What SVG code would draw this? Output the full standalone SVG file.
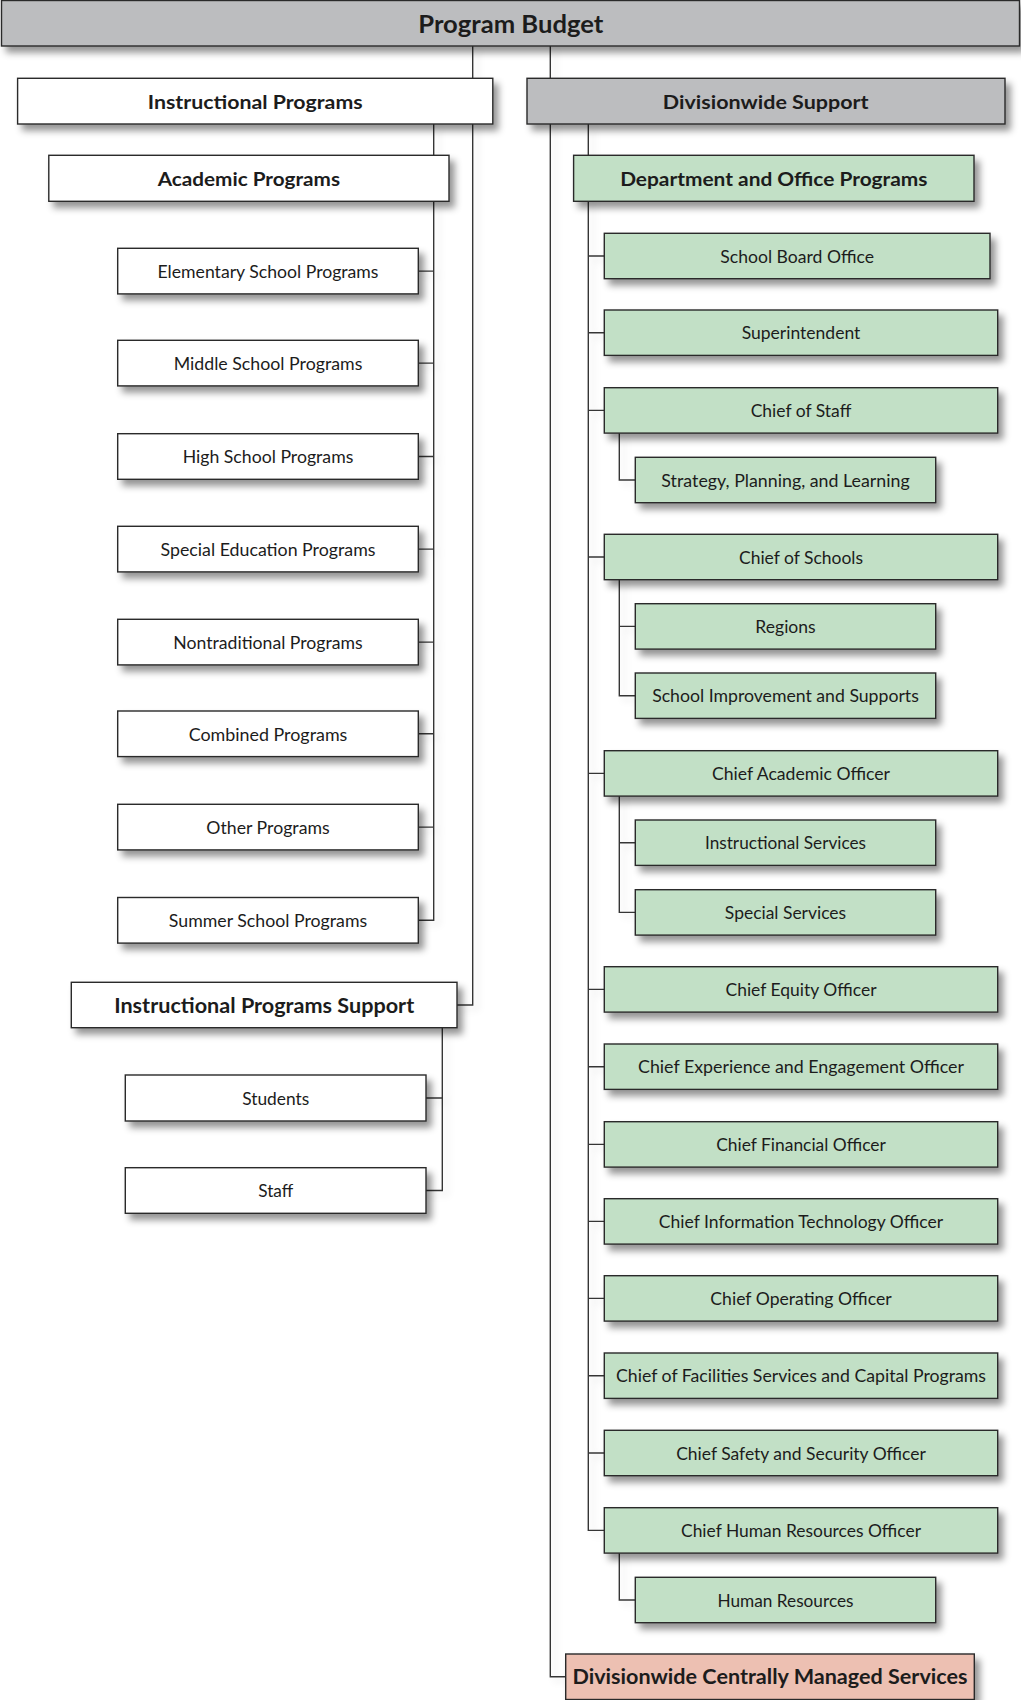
<svg xmlns="http://www.w3.org/2000/svg" width="1021" height="1700" viewBox="0 0 1021 1700">
  <style>
    .box{stroke:#2a2a2a;stroke-width:1.4}
    .w{fill:#ffffff}
    .g{fill:#bcbdbf}
    .gr{fill:#c2e0c6}
    .pk{fill:#edc0b2}
    .t{font-family:Lato,"Open Sans","Liberation Sans",sans-serif;font-size:18px;fill:#1c1c1c;text-anchor:middle}
    .b{font-weight:700;font-size:19.5px}
    .b20{font-size:20px}
    .b24{font-size:24px}
    #connectors path{stroke:#363636;stroke-width:1.4;fill:none}
  </style>
  <defs>
    <filter id="sh" x="-5%" y="-30%" width="115%" height="180%">
      <feDropShadow dx="5" dy="6" stdDeviation="3.5" flood-color="#000" flood-opacity="0.42"/>
    </filter>
    <filter id="lsh" filterUnits="userSpaceOnUse" x="0" y="0" width="1021" height="1700">
      <feDropShadow dx="5" dy="4" stdDeviation="3.5" flood-color="#000" flood-opacity="0.12"/>
    </filter>
  </defs>

  <!-- tree lines, drawn beneath the boxes -->
  <g id="connectors" filter="url(#lsh)">
    <path d="M472.7 46 V1005 H457"/>
    <path d="M550.3 46 V1676.7 H565.7"/>
    <path d="M433.7 124 V920.3 H418.3"/>
    <path d="M418.3 271.1 H433.7 M418.3 363.1 H433.7 M418.3 456.5 H433.7 M418.3 549.1 H433.7 M418.3 642.1 H433.7 M418.3 733.8 H433.7 M418.3 827.1 H433.7"/>
    <path d="M442.3 1027.7 V1190.5 H426 M426 1098 H442.3"/>
    <path d="M588.3 124 V1530.4 H604.3"/>
    <path d="M588.3 256 H604.3 M588.3 332.7 H604.3 M588.3 410.4 H604.3 M588.3 557 H604.3 M588.3 773.4 H604.3 M588.3 989.4 H604.3 M588.3 1066.7 H604.3 M588.3 1144.4 H604.3 M588.3 1221.4 H604.3 M588.3 1298.4 H604.3 M588.3 1375.7 H604.3 M588.3 1453 H604.3"/>
    <path d="M619.3 432.7 V480 H635.3"/>
    <path d="M619.3 579.3 V695.7 H635.3 M619.3 626.4 H635.3"/>
    <path d="M619.3 796 V912.4 H635.3 M619.3 842.7 H635.3"/>
    <path d="M619.3 1553 V1600 H635.3"/>
  </g>

  <!-- root -->
  <g id="program-budget">
    <rect class="box g" x="1.5" y="0.5" width="1018" height="45.5" filter="url(#sh)"/>
    <text class="t b b24" x="510.8" y="33.3" textLength="185" lengthAdjust="spacingAndGlyphs">Program Budget</text>
  </g>

  <!-- instructional side -->
  <g id="instructional-programs">
    <rect class="box w" x="17.6" y="78.3" width="475.2" height="45.7" filter="url(#sh)"/>
    <text class="t b" x="255.2" y="109.3" textLength="214.8" lengthAdjust="spacingAndGlyphs">Instructional Programs</text>
  </g>
  <g id="academic-programs">
    <rect class="box w" x="48.8" y="155.3" width="400.2" height="46" filter="url(#sh)"/>
    <text class="t b" x="248.9" y="186.3" textLength="182.3" lengthAdjust="spacingAndGlyphs">Academic Programs</text>
  </g>
  <g id="elementary">
    <rect class="box w" x="117.7" y="248.3" width="300.6" height="45.6" filter="url(#sh)"/>
    <text class="t" x="268" y="277.8" textLength="221" lengthAdjust="spacingAndGlyphs">Elementary School Programs</text>
  </g>
  <g id="middle">
    <rect class="box w" x="117.7" y="340.3" width="300.6" height="45.6" filter="url(#sh)"/>
    <text class="t" x="268" y="369.8" textLength="188.7" lengthAdjust="spacingAndGlyphs">Middle School Programs</text>
  </g>
  <g id="high">
    <rect class="box w" x="117.7" y="433.7" width="300.6" height="45.6" filter="url(#sh)"/>
    <text class="t" x="268" y="463.2" textLength="170.7" lengthAdjust="spacingAndGlyphs">High School Programs</text>
  </g>
  <g id="special-education">
    <rect class="box w" x="117.7" y="526.3" width="300.6" height="45.6" filter="url(#sh)"/>
    <text class="t" x="268" y="555.8" textLength="215" lengthAdjust="spacingAndGlyphs">Special Education Programs</text>
  </g>
  <g id="nontraditional">
    <rect class="box w" x="117.7" y="619.3" width="300.6" height="45.6" filter="url(#sh)"/>
    <text class="t" x="268" y="648.8" textLength="189.3" lengthAdjust="spacingAndGlyphs">Nontraditional Programs</text>
  </g>
  <g id="combined">
    <rect class="box w" x="117.7" y="711" width="300.6" height="45.6" filter="url(#sh)"/>
    <text class="t" x="268" y="740.5" textLength="158.7" lengthAdjust="spacingAndGlyphs">Combined Programs</text>
  </g>
  <g id="other">
    <rect class="box w" x="117.7" y="804.3" width="300.6" height="45.6" filter="url(#sh)"/>
    <text class="t" x="268" y="833.8" textLength="123.3" lengthAdjust="spacingAndGlyphs">Other Programs</text>
  </g>
  <g id="summer">
    <rect class="box w" x="117.7" y="897.5" width="300.6" height="45.6" filter="url(#sh)"/>
    <text class="t" x="268" y="927" textLength="198.3" lengthAdjust="spacingAndGlyphs">Summer School Programs</text>
  </g>
  <g id="instructional-programs-support">
    <rect class="box w" x="71.3" y="982.3" width="385.7" height="45.4" filter="url(#sh)"/>
    <text class="t b b20" x="264.2" y="1013.3" textLength="300" lengthAdjust="spacingAndGlyphs">Instructional Programs Support</text>
  </g>
  <g id="students">
    <rect class="box w" x="125.3" y="1075" width="300.7" height="46" filter="url(#sh)"/>
    <text class="t" x="275.7" y="1105" textLength="67" lengthAdjust="spacingAndGlyphs">Students</text>
  </g>
  <g id="staff">
    <rect class="box w" x="125.3" y="1167.7" width="300.7" height="45.6" filter="url(#sh)"/>
    <text class="t" x="275.7" y="1197.2" textLength="35" lengthAdjust="spacingAndGlyphs">Staff</text>
  </g>

  <!-- divisionwide side -->
  <g id="divisionwide-support">
    <rect class="box g" x="527" y="78.3" width="478" height="45.7" filter="url(#sh)"/>
    <text class="t b" x="765.7" y="109.3" textLength="205.7" lengthAdjust="spacingAndGlyphs">Divisionwide Support</text>
  </g>
  <g id="department-office">
    <rect class="box gr" x="573.6" y="155.3" width="400.4" height="46" filter="url(#sh)"/>
    <text class="t b" x="773.8" y="186.3" textLength="307.3" lengthAdjust="spacingAndGlyphs">Department and Office Programs</text>
  </g>
  <g id="school-board-office">
    <rect class="box gr" x="604.3" y="233.3" width="385.7" height="45.4" filter="url(#sh)"/>
    <text class="t" x="797.2" y="262.7" textLength="153.7" lengthAdjust="spacingAndGlyphs">School Board Office</text>
  </g>
  <g id="superintendent">
    <rect class="box gr" x="604.3" y="310" width="393.4" height="45.4" filter="url(#sh)"/>
    <text class="t" x="801" y="339.4" textLength="118.7" lengthAdjust="spacingAndGlyphs">Superintendent</text>
  </g>
  <g id="chief-of-staff">
    <rect class="box gr" x="604.3" y="387.7" width="393.4" height="45.4" filter="url(#sh)"/>
    <text class="t" x="801" y="417.1" textLength="100.7" lengthAdjust="spacingAndGlyphs">Chief of Staff</text>
  </g>
  <g id="strategy-planning-learning">
    <rect class="box gr" x="635.3" y="457.3" width="300.4" height="45.4" filter="url(#sh)"/>
    <text class="t" x="785.5" y="486.7" textLength="248.3" lengthAdjust="spacingAndGlyphs">Strategy, Planning, and Learning</text>
  </g>
  <g id="chief-of-schools">
    <rect class="box gr" x="604.3" y="534.3" width="393.4" height="45.4" filter="url(#sh)"/>
    <text class="t" x="801" y="563.7" textLength="124" lengthAdjust="spacingAndGlyphs">Chief of Schools</text>
  </g>
  <g id="regions">
    <rect class="box gr" x="635.3" y="603.7" width="300.4" height="45.4" filter="url(#sh)"/>
    <text class="t" x="785.5" y="633.1" textLength="60.3" lengthAdjust="spacingAndGlyphs">Regions</text>
  </g>
  <g id="school-improvement">
    <rect class="box gr" x="635.3" y="673" width="300.4" height="45.4" filter="url(#sh)"/>
    <text class="t" x="785.5" y="702.4" textLength="266.7" lengthAdjust="spacingAndGlyphs">School Improvement and Supports</text>
  </g>
  <g id="chief-academic-officer">
    <rect class="box gr" x="604.3" y="750.7" width="393.4" height="45.4" filter="url(#sh)"/>
    <text class="t" x="801" y="780.1" textLength="178" lengthAdjust="spacingAndGlyphs">Chief Academic Officer</text>
  </g>
  <g id="instructional-services">
    <rect class="box gr" x="635.3" y="820" width="300.4" height="45.4" filter="url(#sh)"/>
    <text class="t" x="785.5" y="849.4" textLength="161" lengthAdjust="spacingAndGlyphs">Instructional Services</text>
  </g>
  <g id="special-services">
    <rect class="box gr" x="635.3" y="889.7" width="300.4" height="45.4" filter="url(#sh)"/>
    <text class="t" x="785.5" y="919.1" textLength="121.3" lengthAdjust="spacingAndGlyphs">Special Services</text>
  </g>
  <g id="chief-equity-officer">
    <rect class="box gr" x="604.3" y="966.7" width="393.4" height="45.4" filter="url(#sh)"/>
    <text class="t" x="801" y="996.1" textLength="151" lengthAdjust="spacingAndGlyphs">Chief Equity Officer</text>
  </g>
  <g id="chief-experience-engagement">
    <rect class="box gr" x="604.3" y="1044" width="393.4" height="45.4" filter="url(#sh)"/>
    <text class="t" x="801" y="1073.4" textLength="326" lengthAdjust="spacingAndGlyphs">Chief Experience and Engagement Officer</text>
  </g>
  <g id="chief-financial-officer">
    <rect class="box gr" x="604.3" y="1121.7" width="393.4" height="45.4" filter="url(#sh)"/>
    <text class="t" x="801" y="1151.1" textLength="169.7" lengthAdjust="spacingAndGlyphs">Chief Financial Officer</text>
  </g>
  <g id="chief-it-officer">
    <rect class="box gr" x="604.3" y="1198.7" width="393.4" height="45.4" filter="url(#sh)"/>
    <text class="t" x="801" y="1228.1" textLength="284.3" lengthAdjust="spacingAndGlyphs">Chief Information Technology Officer</text>
  </g>
  <g id="chief-operating-officer">
    <rect class="box gr" x="604.3" y="1275.7" width="393.4" height="45.4" filter="url(#sh)"/>
    <text class="t" x="801" y="1305.1" textLength="181.3" lengthAdjust="spacingAndGlyphs">Chief Operating Officer</text>
  </g>
  <g id="chief-facilities">
    <rect class="box gr" x="604.3" y="1353" width="393.4" height="45.4" filter="url(#sh)"/>
    <text class="t" x="801" y="1382.4" textLength="370" lengthAdjust="spacingAndGlyphs">Chief of Facilities Services and Capital Programs</text>
  </g>
  <g id="chief-safety-security">
    <rect class="box gr" x="604.3" y="1430.3" width="393.4" height="45.4" filter="url(#sh)"/>
    <text class="t" x="801" y="1459.7" textLength="249.7" lengthAdjust="spacingAndGlyphs">Chief Safety and Security Officer</text>
  </g>
  <g id="chief-hr-officer">
    <rect class="box gr" x="604.3" y="1507.7" width="393.4" height="45.4" filter="url(#sh)"/>
    <text class="t" x="801" y="1537.1" textLength="240" lengthAdjust="spacingAndGlyphs">Chief Human Resources Officer</text>
  </g>
  <g id="human-resources">
    <rect class="box gr" x="635.3" y="1577.3" width="300.4" height="45.4" filter="url(#sh)"/>
    <text class="t" x="785.5" y="1606.7" textLength="136" lengthAdjust="spacingAndGlyphs">Human Resources</text>
  </g>
  <g id="centrally-managed-services">
    <rect class="box pk" x="565.7" y="1654" width="408.6" height="45.5" filter="url(#sh)"/>
    <text class="t b b20" x="770" y="1684.3" textLength="395" lengthAdjust="spacingAndGlyphs">Divisionwide Centrally Managed Services</text>
  </g>
</svg>
